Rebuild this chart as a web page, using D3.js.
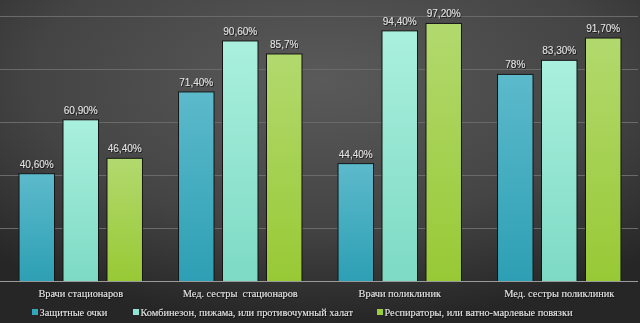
<!DOCTYPE html>
<html><head><meta charset="utf-8">
<script src="https://cdn.jsdelivr.net/npm/d3@7"></script>
<style>
html,body{margin:0;padding:0;background:#333;}
svg{display:block;}
</style></head>
<body>
<svg id="chart" width="640" height="323"></svg>
<script>
const categories = ["Врачи стационаров", "Мед. сестры  стационаров", "Врачи поликлиник", "Мед. сестры поликлиник"];
const seriesNames = ["Защитные очки", "Комбинезон, пижама, или противочумный халат", "Респираторы, или ватно-марлевые повязки"];
const goggles = [40.6, 71.4, 44.4, 78];
const overalls = [60.9, 90.6, 94.4, 83.3];
const respirators = [46.4, 85.7, 97.2, 91.7];
const gogglesLabels = ["40,60%", "71,40%", "44,40%", "78%"];
const overallsLabels = ["60,90%", "90,60%", "94,40%", "83,30%"];
const respiratorsLabels = ["46,40%", "85,7%", "97,20%", "91,70%"];
const yTicks = [0, 20, 40, 60, 80, 100];

const seriesValues = [goggles, overalls, respirators];
const seriesLabels = [gogglesLabels, overallsLabels, respiratorsLabels];
const gradStops = [["#5cbacb", "#2d9fb4"], ["#aaf0de", "#7ddac4"], ["#b2d96e", "#98c935"]];
const legendColors = ["#34a6bb", "#8fe6d0", "#9ccd3c"];

const W = 640, H = 323;
const svg = d3.select("#chart");
const defs = svg.append("defs");

const bg = defs.append("radialGradient").attr("id", "bg")
  .attr("cx", "50%").attr("cy", "25%").attr("r", "75%")
  .attr("gradientUnits", "objectBoundingBox");
bg.append("stop").attr("offset", "0%").attr("stop-color", "#5a5a5a");
bg.append("stop").attr("offset", "60%").attr("stop-color", "#444");
bg.append("stop").attr("offset", "100%").attr("stop-color", "#262626");

gradStops.forEach((s, i) => {
  const g = defs.append("linearGradient").attr("id", "g" + i)
    .attr("x1", 0).attr("y1", 0).attr("x2", 0).attr("y2", 1);
  g.append("stop").attr("offset", "0%").attr("stop-color", s[0]);
  g.append("stop").attr("offset", "100%").attr("stop-color", s[1]);
});

const sh = defs.append("filter").attr("id", "ts").attr("x", "-10%").attr("y", "-30%").attr("width", "120%").attr("height", "160%");
sh.append("feDropShadow").attr("dx", 0.8).attr("dy", 0.8).attr("stdDeviation", 0.4).attr("flood-color", "#000").attr("flood-opacity", 0.8);

svg.append("rect").attr("width", W).attr("height", H).attr("fill", "url(#bg)");

const x0 = d3.scaleBand().domain(d3.range(categories.length)).range([1, 639]).padding(0);
const x1 = d3.scaleBand().domain(d3.range(3)).range([0, x0.bandwidth()]).paddingInner(0.193).paddingOuter(0.41);
const y = d3.scaleLinear().domain([0, 100]).range([281.5, 16]);

// gridlines
svg.append("g").selectAll("line").data(yTicks.slice(1)).join("line")
  .attr("x1", 0).attr("x2", 638)
  .attr("y1", d => Math.round(y(d)) + 0.5).attr("y2", d => Math.round(y(d)) + 0.5)
  .attr("stroke", "#6a6a6a").attr("stroke-width", 1);

// bars
const groups = svg.append("g").selectAll("g").data(categories).join("g")
  .attr("transform", (d, i) => `translate(${x0(i)},0)`);

groups.each(function(c, ci) {
  const g = d3.select(this);
  seriesValues.forEach((vals, si) => {
    const v = vals[ci];
    g.append("rect")
      .attr("x", x1(si)).attr("y", y(v))
      .attr("width", x1.bandwidth()).attr("height", y(0) - y(v))
      .attr("fill", `url(#g${si})`)
      .attr("stroke", "#151515").attr("stroke-width", 1);
    g.append("text")
      .attr("x", x1(si) + x1.bandwidth() / 2).attr("y", y(v) - 6)
      .attr("text-anchor", "middle")
      .attr("font-family", "'Liberation Sans', Arial, sans-serif")
      .attr("font-size", 10)
      .attr("fill", "#e2e2e2")
      .attr("filter", "url(#ts)")
      .text(seriesLabels[si][ci]);
  });
});

// axis
const xAxis = svg.append("g").attr("transform", `translate(0,${y(0)})`)
  .call(d3.axisBottom(x0).tickSize(0).tickFormat(i => categories[i]));
xAxis.select(".domain").attr("d", "M0,0H638").attr("stroke", "#9a9a9a").attr("stroke-width", 1.2);
xAxis.selectAll("text")
  .attr("y", 15.5).attr("dy", 0)
  .attr("font-family", "'Liberation Serif', 'Times New Roman', serif")
  .attr("font-size", 10.3)
  .attr("fill", "#e8e8e8")
  .attr("filter", "url(#ts)")
  .style("white-space", "pre");

// legend
const legendX = [32, 133, 377];
const leg = svg.append("g").selectAll("g").data(seriesNames).join("g")
  .attr("transform", (d, i) => `translate(${legendX[i]},309)`);
leg.append("rect").attr("x", 0).attr("y", 0).attr("width", 6).attr("height", 6)
  .attr("fill", (d, i) => legendColors[i]);
leg.append("text").attr("x", 7.5).attr("y", 7)
  .attr("font-family", "'Liberation Serif', 'Times New Roman', serif")
  .attr("font-size", 10.3)
  .attr("fill", "#e8e8e8")
  .attr("filter", "url(#ts)")
  .text(d => d);
</script>
</body></html>
